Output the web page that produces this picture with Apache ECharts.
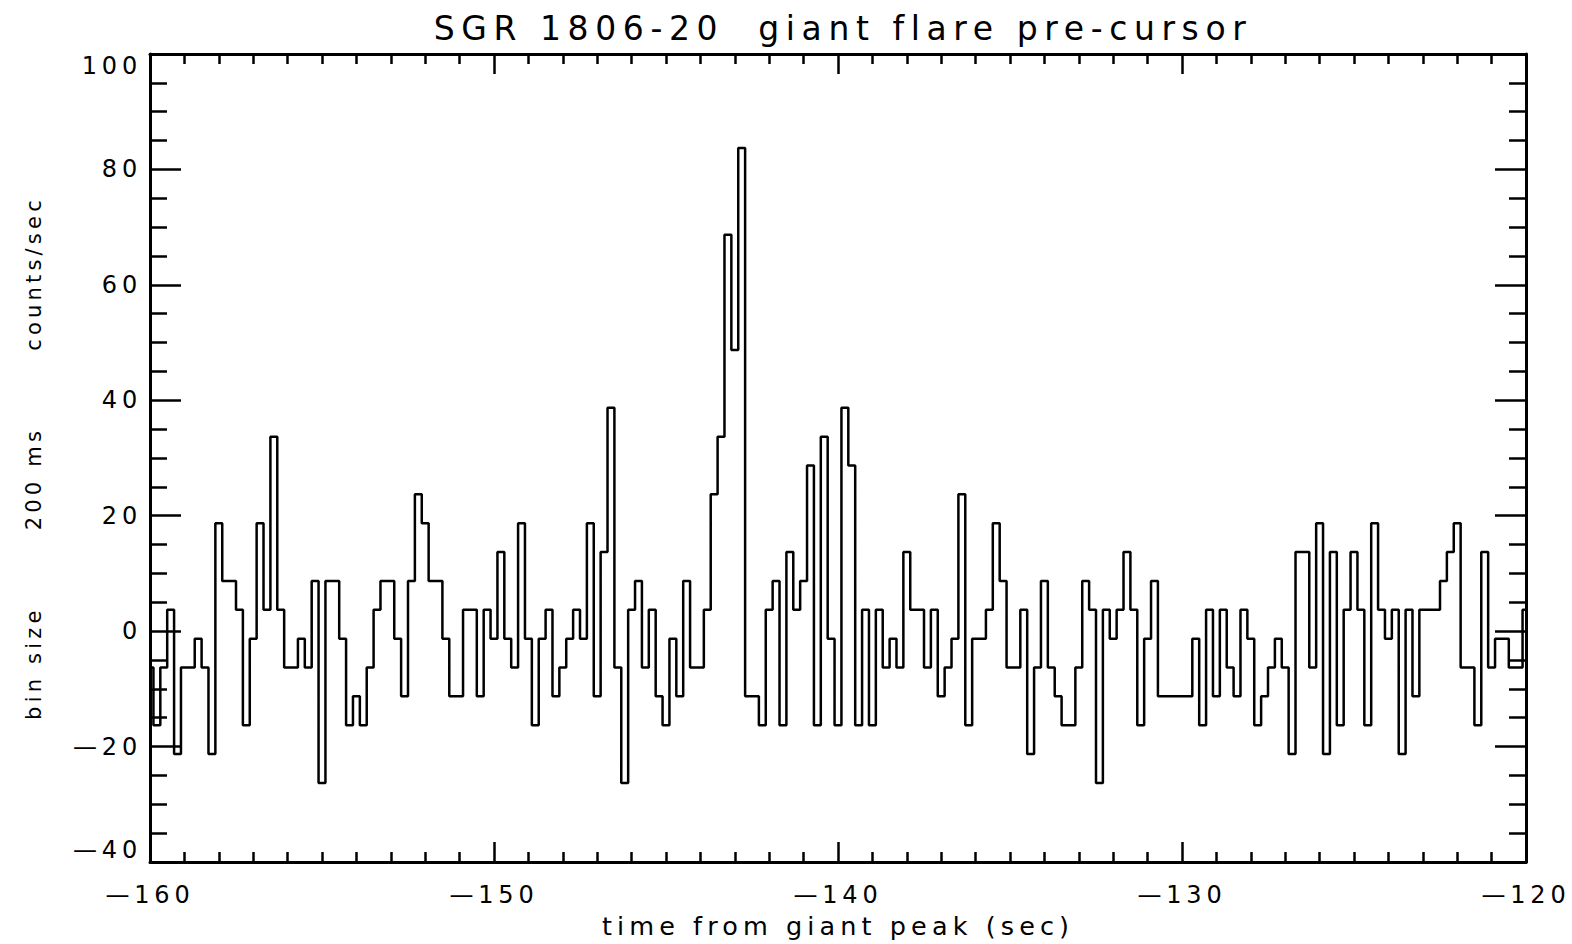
<!DOCTYPE html>
<html><head><meta charset="utf-8">
<script src="https://cdn.jsdelivr.net/npm/echarts@6/dist/echarts.min.js"></script>
<style>
html,body{margin:0;padding:0;background:#fff;}
#chart{width:1572px;height:944px;}
#chart svg text{letter-spacing:0.2em;white-space:pre;}
</style></head>
<body><div id="chart"></div>
<script>
const titleText = 'SGR 1806-20  giant flare pre-cursor';
const xAxisTitle = 'time from giant peak (sec)';
const yAxisTitle = 'bin size       200 ms       counts/sec';
const binStart = -160;
const binWidth = 0.2;
const xRange = [-160, -120];
const yRange = [-40, 100];
const counts = [
 -6.3,-16.3,-6.3,3.7,-21.3,-6.3,-6.3,-1.3,-6.3,-21.3,
 18.7,8.7,8.7,3.7,-16.3,-1.3,18.7,3.7,33.7,3.7,
 -6.3,-6.3,-1.3,-6.3,8.7,-26.3,8.7,8.7,-1.3,-16.3,
 -11.3,-16.3,-6.3,3.7,8.7,8.7,-1.3,-11.3,8.7,23.7,
 18.7,8.7,8.7,-1.3,-11.3,-11.3,3.7,3.7,-11.3,3.7,
 -1.3,13.7,-1.3,-6.3,18.7,-1.3,-16.3,-1.3,3.7,-11.3,
 -6.3,-1.3,3.7,-1.3,18.7,-11.3,13.7,38.7,-6.3,-26.3,
 3.7,8.7,-6.3,3.7,-11.3,-16.3,-1.3,-11.3,8.7,-6.3,
 -6.3,3.7,23.7,33.7,68.7,48.7,83.7,-11.3,-11.3,-16.3,
 3.7,8.7,-16.3,13.7,3.7,8.7,28.7,-16.3,33.7,-1.3,
 -16.3,38.7,28.7,-16.3,3.7,-16.3,3.7,-6.3,-1.3,-6.3,
 13.7,3.7,3.7,-6.3,3.7,-11.3,-6.3,-1.3,23.7,-16.3,
 -1.3,-1.3,3.7,18.7,8.7,-6.3,-6.3,3.7,-21.3,-6.3,
 8.7,-6.3,-11.3,-16.3,-16.3,-6.3,8.7,3.7,-26.3,3.7,
 -1.3,3.7,13.7,3.7,-16.3,-1.3,8.7,-11.3,-11.3,-11.3,
 -11.3,-11.3,-1.3,-16.3,3.7,-11.3,3.7,-6.3,-11.3,3.7,
 -1.3,-16.3,-11.3,-6.3,-1.3,-6.3,-21.3,13.7,13.7,-6.3,
 18.7,-21.3,13.7,-16.3,3.7,13.7,3.7,-16.3,18.7,3.7,
 -1.3,3.7,-21.3,3.7,-11.3,3.7,3.7,3.7,8.7,13.7,
 18.7,-6.3,-6.3,-16.3,13.7,-6.3,-1.3,-1.3,-6.3,-6.3,
 3.7
];

const font = 'DejaVu Sans';
const minusFmt = v => String(v).replace('-', '\u2014');

const chart = echarts.init(document.getElementById('chart'), null, {renderer: 'svg'});
const axisCommon = {
  type: 'value',
  axisLine: {show: true, onZero: false, lineStyle: {color: '#000', width: 3}},
  splitLine: {show: false},
  minorSplitLine: {show: false}
};
chart.setOption({
  animation: false,
  backgroundColor: '#fff',
  title: {
    text: titleText,
    left: 838, top: 7, textAlign: 'center',
    textStyle: {fontFamily: font, fontSize: 33, fontWeight: 'normal', color: '#000'}
  },
  grid: {left: 150, right: 46, top: 54, bottom: 82, containLabel: false},
  xAxis: [
    Object.assign({}, axisCommon, {
      position: 'bottom', min: xRange[0], max: xRange[1], interval: 10,
      axisTick: {show: true, inside: true, length: 20, lineStyle: {color: '#000', width: 2.5}},
      minorTick: {show: true, splitNumber: 10, length: 10, lineStyle: {color: '#000', width: 2.5}},
      axisLabel: {show: true, margin: 21, color: '#000', fontFamily: font, fontSize: 24, formatter: minusFmt},
      name: xAxisTitle, nameLocation: 'middle', nameGap: 51,
      nameTextStyle: {fontFamily: font, fontSize: 25.5, color: '#000'}
    }),
    Object.assign({}, axisCommon, {
      position: 'top', min: xRange[0], max: xRange[1], interval: 10,
      axisTick: {show: true, inside: true, length: 20, lineStyle: {color: '#000', width: 2.5}},
      minorTick: {show: true, splitNumber: 10, length: 10, lineStyle: {color: '#000', width: 2.5}},
      axisLabel: {show: false}
    })
  ],
  yAxis: [
    Object.assign({}, axisCommon, {
      position: 'left', min: yRange[0], max: yRange[1], interval: 20,
      axisTick: {show: true, inside: true, length: 31, lineStyle: {color: '#000', width: 2.5}},
      minorTick: {show: true, splitNumber: 4, length: 17, lineStyle: {color: '#000', width: 2.5}},
      axisLabel: {show: true, margin: 8, color: '#000', fontFamily: font, fontSize: 24, formatter: minusFmt,
        verticalAlignMinLabel: 'bottom', verticalAlignMaxLabel: 'top'},
      name: yAxisTitle, nameLocation: 'middle', nameGap: 106, nameRotate: 90,
      nameTextStyle: {fontFamily: font, fontSize: 21, color: '#000'}
    }),
    Object.assign({}, axisCommon, {
      position: 'right', min: yRange[0], max: yRange[1], interval: 20,
      axisTick: {show: true, inside: true, length: 31, lineStyle: {color: '#000', width: 2.5}},
      minorTick: {show: true, splitNumber: 4, length: 17, lineStyle: {color: '#000', width: 2.5}},
      axisLabel: {show: false}
    })
  ],
  series: [{
    type: 'line',
    xAxisIndex: 0, yAxisIndex: 0,
    step: 'middle',
    showSymbol: false, symbol: 'none',
    lineStyle: {color: '#000', width: 2.5},
    data: counts.map((v, i) => [binStart + i * binWidth, v])
  }]
});
</script>
</body></html>
